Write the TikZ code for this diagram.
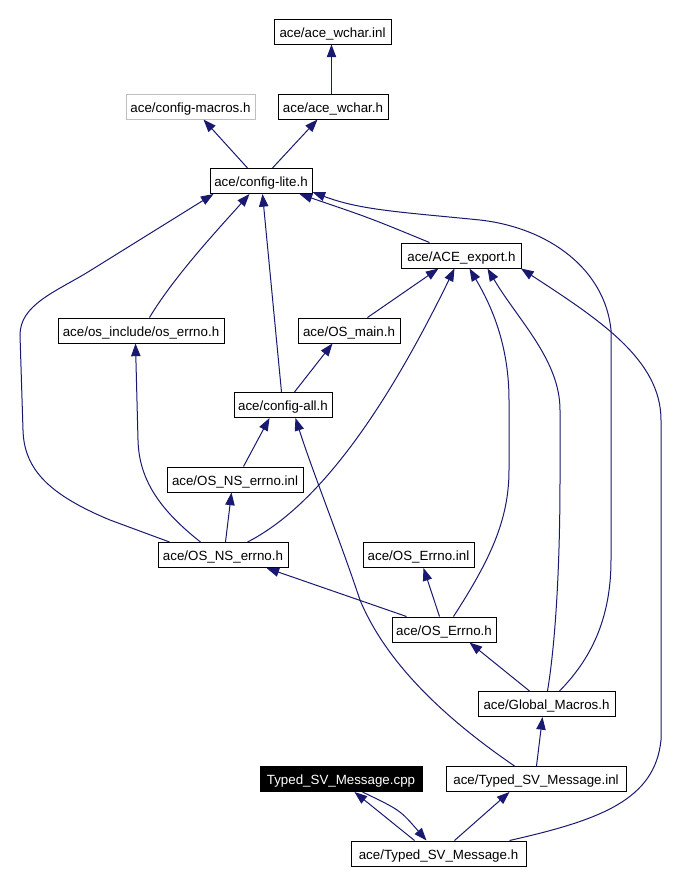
\documentclass[tikz,border=0pt]{standalone}
\usepackage{fontspec}
\setmainfont{Liberation Sans}
\usetikzlibrary{arrows.meta,calc}
\definecolor{navy}{HTML}{191970}
\definecolor{lgray}{HTML}{BFBFBF}
\begin{document}
\begin{tikzpicture}[x=0.75pt,y=-0.75pt,
  box/.style={draw=black, line width=0.75pt, inner sep=0pt, minimum height=18.75pt,
    font=\fontsize{10}{12}\selectfont, text height=8.5pt, text depth=0pt, text=black},
  bw/.style={minimum width=#1*0.75pt},
  grayb/.style={draw=lgray},
  mainb/.style={fill=black, text=white},
  edge/.style={draw=navy, line width=0.75pt, -{Triangle[length=9.5pt,width=7pt]}}]
\useasboundingbox (0,0) rectangle (682,883);
\fill[white] (0,0) rectangle (682,883);

\node[box,bw=117] (wcharinl) at (332.5,31.5) {ace/ace\_wchar.inl};
\node[box,bw=110] (wcharh) at (333,106.5) {ace/ace\_wchar.h};
\node[box,bw=129,grayb] (macros) at (190.5,106.5) {ace/config-macros.h};
\node[box,bw=102] (lite) at (261,181) {ace/config-lite.h};
\node[box,bw=120] (export) at (461.5,255.5) {ace/ACE\_export.h};
\node[box,bw=166] (oserrno) at (141,330.5) {ace/os\_include/os\_errno.h};
\node[box,bw=102] (osmain) at (349,330.5) {ace/OS\_main.h};
\node[box,bw=98] (all) at (283,405) {ace/config-all.h};
\node[box,bw=136] (nsinl) at (235,479.5) {ace/OS\_NS\_errno.inl};
\node[box,bw=130] (nsh) at (223,555) {ace/OS\_NS\_errno.h};
\node[box,bw=111] (errinl) at (418.5,555) {ace/OS\_Errno.inl};
\node[box,bw=104] (errh) at (444,629.5) {ace/OS\_Errno.h};
\node[box,bw=137] (glob) at (546.5,704) {ace/Global\_Macros.h};
\node[box,bw=162,mainb] (cpp) at (341,779) {Typed\_SV\_Message.cpp};
\node[box,bw=180] (svinl) at (536,779) {ace/Typed\_SV\_Message.inl};
\node[box,bw=175] (svh) at (438.5,853.5) {ace/Typed\_SV\_Message.h};

% edges
\draw[edge] ($(wcharh.north west)+(54,0)$) -- ($(wcharinl.south west)+(58,0)$);
\draw[edge] ($(lite.north west)+(38,0)$) -- ($(macros.south west)+(78,0)$);
\draw[edge] ($(lite.north west)+(63,0)$) -- ($(wcharh.south west)+(40,0)$);
\draw[edge] ($(export.north west)+(28.5,0)$) .. controls (370,218) .. ($(lite.south west)+(90,0)$);
\draw[edge] ($(oserrno.north west)+(92,0)$) .. controls (175,275) and (222,225) .. ($(lite.south west)+(40,0)$);
\draw[edge] ($(all.north west)+(48,0)$) -- ($(lite.south west)+(53,0)$);
\draw[edge] ($(nsh.north west)+(12,0)$) -- (110,520) .. controls (50,495) and (24,470) .. (23,430)
  -- (20,335) .. controls (20,305) and (55,292) .. (88,272) -- ($(lite.south west)+(4,0)$);
\draw[edge] ($(nsh.north west)+(43,0)$) .. controls (160,510) and (139,480) .. (138,440) -- ($(oserrno.south west)+(78,0)$);
\draw[edge] ($(nsh.north west)+(68,0)$) -- ($(nsinl.south west)+(65,0)$);
\draw[edge] ($(nsinl.north west)+(77,0)$) -- ($(all.south west)+(36,0)$);
\draw[edge] ($(nsh.north west)+(90,0)$) .. controls (330,500) and (400,380) .. ($(export.south west)+(53.5,0)$);
\draw[edge] ($(errh.north west)+(15,0)$) -- ($(nsh.south west)+(109,0)$);
\draw[edge] ($(errh.north west)+(48,0)$) -- ($(errinl.south west)+(61,0)$);
\draw[edge] ($(errh.north west)+(62,0)$) .. controls (490,560) and (509,520) .. (509,470) -- (509,400)
  .. controls (509,340) and (488,300) .. ($(export.south west)+(68.5,0)$);
\draw[edge] ($(glob.north west)+(52,0)$) -- ($(errh.south west)+(78,0)$);
\draw[edge] ($(glob.north west)+(70,0)$) .. controls (556,640) and (560,560) .. (560,480) -- (560,410)
  .. controls (560,360) and (518,320) .. ($(export.south west)+(86.5,0)$);
\draw[edge] ($(glob.north west)+(82,0)$) .. controls (590,660) and (611,620) .. (611,560) -- (611,330)
  .. controls (605,270) and (550,228) .. (480,220) .. controls (400,212) and (360,210) .. ($(lite.south east)+(0,-2)$);
\draw[edge] ($(svinl.north west)+(69,0)$) .. controls (440,715) and (385,660) .. (360,600)
  .. controls (340,540) and (312,470) .. ($(all.south west)+(62,0)$);
\draw[edge] ($(svinl.north west)+(91,0)$) -- ($(glob.south west)+(65,0)$);
\draw[edge] ($(svh.north west)+(104,0)$) -- ($(svinl.south west)+(64,0)$);
\draw[edge] ($(svh.north west)+(64,0)$) -- ($(cpp.south west)+(95,0)$);
\draw[edge] ($(cpp.south west)+(103,0)$) .. controls (400,810) .. ($(svh.north west)+(76,0)$);
\draw[edge] ($(svh.north west)+(159,0)$) .. controls (600,820) and (655,800) .. (661,740) -- (661,420)
  .. controls (661,360) and (600,320) .. ($(export.south east)+(-1,0)$);
\draw[edge] ($(osmain.north west)+(70,0)$) -- ($(export.south west)+(37.5,0)$);
\draw[edge] ($(all.north west)+(61,0)$) -- ($(osmain.south west)+(35,0)$);
\end{tikzpicture}
\end{document}
